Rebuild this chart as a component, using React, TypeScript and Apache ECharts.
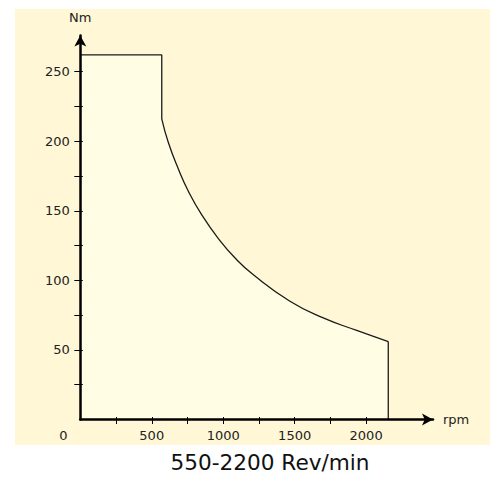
import React, { useEffect, useRef } from "react";
import * as echarts from "echarts";

const flatPart: [number, number][] = [
  [0, 262],
  [570, 262],
  [570, 216],
];
const curvePart: [number, number][] = [
  [570, 216],
  [616, 199],
  [686, 180],
  [756, 164],
  [850, 147],
  [966, 130],
  [1083, 116],
  [1211, 104],
  [1467, 85],
  [1700, 73],
  [1934, 64],
  [2155, 56],
];
const dropPart: [number, number][] = [
  [2155, 56],
  [2155, 0],
];
const xTicks = [250, 500, 750, 1000, 1250, 1500, 1750, 2000];
const xLabels = [0, 500, 1000, 1500, 2000];
const yTicks = [25, 50, 75, 100, 125, 150, 175, 200, 225, 250];
const yLabels = [50, 100, 150, 200, 250];
const titleText = "550-2200 Rev/min";
const xName = "rpm";
const yName = "Nm";

const X_MAX = 2468;
const Y_MAX = 276;
const FONT = "DejaVu Sans";
const LINE = "#1a1a1a";
const OUTER = "#FFF7D6";
const INNER = "#FFFDE3";

export default function App() {
  const ref = useRef<HTMLDivElement>(null);
  useEffect(() => {
    if (!ref.current) return;
    const chart = echarts.init(ref.current, null, { renderer: "svg" });
    const labelStyle = { fontFamily: FONT, fontSize: 13, color: "#222" };
    chart.setOption({
      animation: false,
      graphic: [
        {
          type: "rect",
          z: -10,
          shape: { x: 15, y: 9, width: 475, height: 436 },
          style: { fill: OUTER },
        },
        {
          type: "text",
          x: 270,
          y: 462,
          style: {
            text: titleText,
            fontFamily: FONT,
            fontSize: 21.6,
            fill: "#111",
            align: "center",
            verticalAlign: "middle",
          },
        },
      ],
      grid: { left: 80.3, right: 490 - 433, top: 35.4, bottom: 477 - 419.5 },
      xAxis: [
        {
          type: "value",
          position: "bottom",
          z: 5,
          min: 0,
          max: X_MAX,
          splitLine: { show: false },
          name: xName,
          nameLocation: "end",
          nameGap: 10,
          nameTextStyle: { ...labelStyle, verticalAlign: "middle" },
          axisLine: {
            onZero: false,
            lineStyle: { color: "#000", width: 2.5 },
            symbol: ["none", "arrow"],
            symbolSize: [9, 11],
          },
          axisTick: {
            show: true,
            inside: false,
            length: 4.5,
            customValues: xTicks,
            lineStyle: { color: "#000", width: 1 },
          },
          axisLabel: {
            ...labelStyle,
            margin: 9,
            customValues: xLabels,
            formatter: (v: number) => (v === 0 ? "{zero|0}" : String(v)),
            rich: { zero: { ...labelStyle, padding: [0, 34, 0, 0] } },
          },
        },
        {
          type: "value",
          position: "bottom",
          z: 5,
          min: 0,
          max: X_MAX,
          splitLine: { show: false },
          axisLine: { show: false, onZero: false },
          axisTick: {
            show: true,
            inside: true,
            length: 2.5,
            customValues: xTicks,
            lineStyle: { color: "#000", width: 1 },
          },
          axisLabel: { show: false },
        },
      ],
      yAxis: [
        {
          type: "value",
          position: "left",
          z: 5,
          min: 0,
          max: Y_MAX,
          splitLine: { show: false },
          name: yName,
          nameLocation: "end",
          nameGap: 11,
          nameTextStyle: { ...labelStyle, align: "center" },
          axisLine: {
            onZero: false,
            lineStyle: { color: "#000", width: 2.5 },
            symbol: ["none", "arrow"],
            symbolSize: [9, 11],
          },
          axisTick: {
            show: true,
            inside: false,
            length: 6,
            customValues: yTicks,
            lineStyle: { color: "#000", width: 1 },
          },
          axisLabel: {
            ...labelStyle,
            margin: 10.5,
            customValues: yLabels,
          },
        },
        {
          type: "value",
          position: "left",
          z: 5,
          min: 0,
          max: Y_MAX,
          splitLine: { show: false },
          axisLine: { show: false, onZero: false },
          axisTick: {
            show: true,
            inside: true,
            length: 2.5,
            customValues: yTicks,
            lineStyle: { color: "#000", width: 1 },
          },
          axisLabel: { show: false },
        },
      ],
      series: [
        {
          type: "line",
          z: 1,
          data: flatPart,
          showSymbol: false,
          lineStyle: { color: LINE, width: 1.3 },
          areaStyle: { color: INNER, opacity: 1 },
        },
        {
          type: "line",
          z: 1,
          data: curvePart,
          smooth: 0.5,
          showSymbol: false,
          lineStyle: { color: LINE, width: 1.3 },
          areaStyle: { color: INNER, opacity: 1 },
        },
        {
          type: "line",
          z: 1,
          data: dropPart,
          showSymbol: false,
          lineStyle: { color: LINE, width: 1.3 },
        },
      ],
    });
    return () => chart.dispose();
  }, []);
  return (
    <div
      ref={ref}
      style={{ position: "absolute", left: 0, top: 0, width: 490, height: 477 }}
    />
  );
}
